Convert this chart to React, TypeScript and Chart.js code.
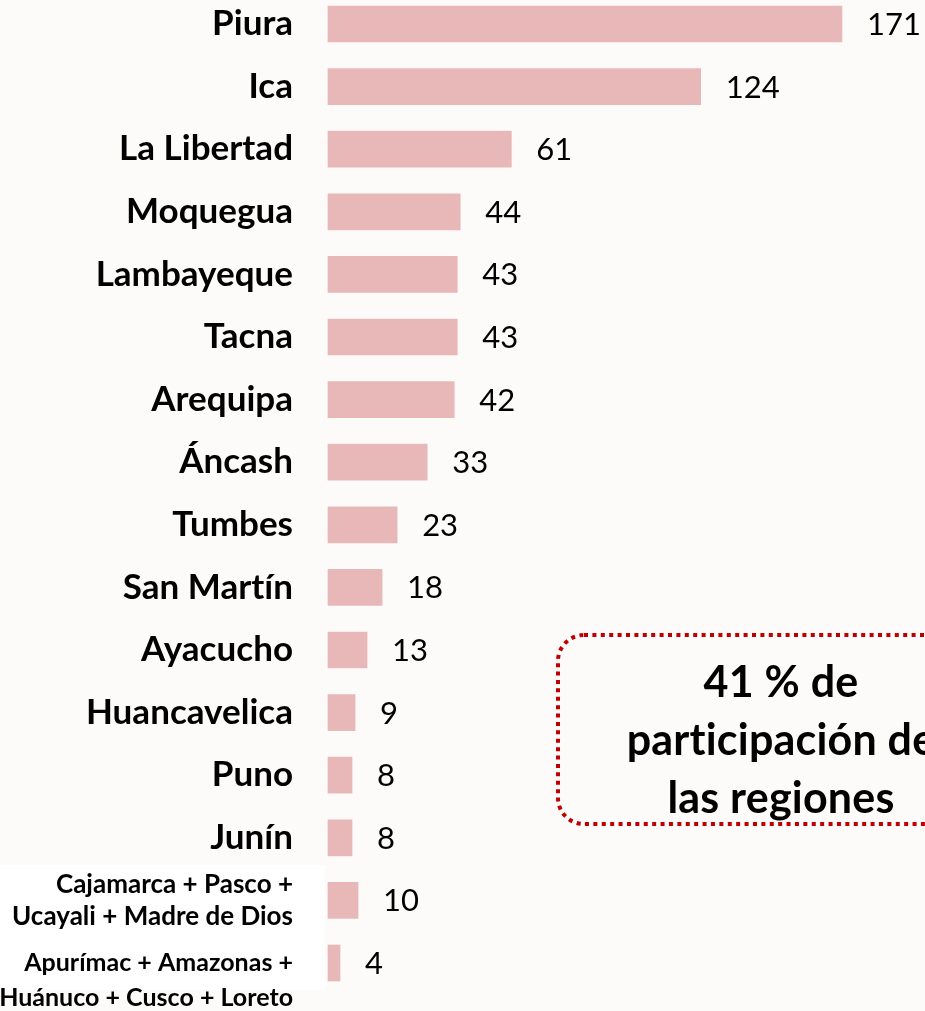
import React, { useEffect, useRef } from "react";
import { Chart, registerables } from "chart.js";

Chart.register(...registerables);

const regions: (string | string[])[] = [
  "Piura",
  "Ica",
  "La Libertad",
  "Moquegua",
  "Lambayeque",
  "Tacna",
  "Arequipa",
  "Áncash",
  "Tumbes",
  "San Martín",
  "Ayacucho",
  "Huancavelica",
  "Puno",
  "Junín",
  ["Cajamarca + Pasco +", "Ucayali + Madre de Dios"],
  ["", "Apurímac + Amazonas +", "Huánuco + Cusco + Loreto"],
];

const values: number[] = [171, 124, 61, 44, 43, 43, 42, 33, 23, 18, 13, 9, 8, 8, 10, 4];

const calloutLines: string[] = ["41 % de", "participación de", "las regiones"];

const BG = "#fcfbfa";
const BAR = "#e8b8b9";

const backgroundPlugin = {
  id: "bgPlugin",
  beforeDraw(chart: any) {
    const { ctx, width, height } = chart;
    (ctx as any).letterSpacing = "0.01px";
    ctx.save();
    ctx.fillStyle = BG;
    ctx.fillRect(0, 0, width, height);
    ctx.fillStyle = "#ffffff";
    ctx.fillRect(0, 865, 325, 125);
    ctx.restore();
  },
};

const valueLabelPlugin = {
  id: "valueLabels",
  afterDatasetsDraw(chart: any) {
    const { ctx } = chart;
    const meta = chart.getDatasetMeta(0);
    ctx.save();
    ctx.font = "31px Lato";
    ctx.fillStyle = "#000000";
    ctx.textAlign = "left";
    ctx.textBaseline = "middle";
    meta.data.forEach((bar: any, i: number) => {
      ctx.fillText(String(values[i]), bar.x + 25, bar.y + 1);
    });
    ctx.restore();
  },
};

const calloutPlugin = {
  id: "callout",
  afterDraw(chart: any) {
    const { ctx } = chart;
    ctx.save();
    ctx.strokeStyle = "#c00000";
    ctx.lineWidth = 4;
    ctx.setLineDash([4, 4.4]);
    ctx.beginPath();
    (ctx as any).roundRect(558, 635, 420, 189, 26);
    ctx.stroke();
    ctx.setLineDash([]);
    ctx.fillStyle = "#000000";
    ctx.font = "bold 43px Lato";
    (ctx as any).letterSpacing = "0.2px";
    ctx.textAlign = "center";
    ctx.textBaseline = "alphabetic";
    const baselines = [697, 755, 813];
    calloutLines.forEach((t, i) => ctx.fillText(t, 781, baselines[i]));
    ctx.restore();
  },
};

export default function App() {
  const ref = useRef<HTMLCanvasElement | null>(null);
  useEffect(() => {
    if (!ref.current) return;
    const chart = new Chart(ref.current, {
      type: "bar",
      data: {
        labels: regions as any,
        datasets: [
          {
            data: values,
            backgroundColor: BAR,
            borderWidth: 0,
            barThickness: 36,
            clip: false as any,
          },
        ],
      },
      options: {
        indexAxis: "y",
        responsive: false,
        animation: false,
        layout: { padding: { left: 0, right: 56, top: 24, bottom: 48 } },
        plugins: { legend: { display: false }, tooltip: { enabled: false } },
        scales: {
          x: { display: false, min: 0, max: 180 },
          y: {
            offset: false,
            border: { display: false },
            grid: { display: false, drawTicks: false },
            afterFit(scale: any) {
              scale.width = 328;
              scale.paddingTop = 0;
              scale.paddingBottom = 0;
            },
            ticks: {
              autoSkip: false,
              padding: 35,
              color: "#000000",
              font: (c: any) =>
                c.index === 15
                  ? { family: "Lato", weight: "bold", size: 25, lineHeight: 1.4 }
                  : c.index === 14
                  ? { family: "Lato", weight: "bold", size: 26, lineHeight: 1.22 }
                  : { family: "Lato", weight: "bold", size: 35 },
            },
          },
        },
      },
      plugins: [backgroundPlugin, valueLabelPlugin, calloutPlugin],
    });
    return () => chart.destroy();
  }, []);
  return (
    <div style={{ position: "absolute", left: 0, top: 0, width: 925, height: 1011 }}>
      <canvas ref={ref} width={925} height={1011} />
    </div>
  );
}
